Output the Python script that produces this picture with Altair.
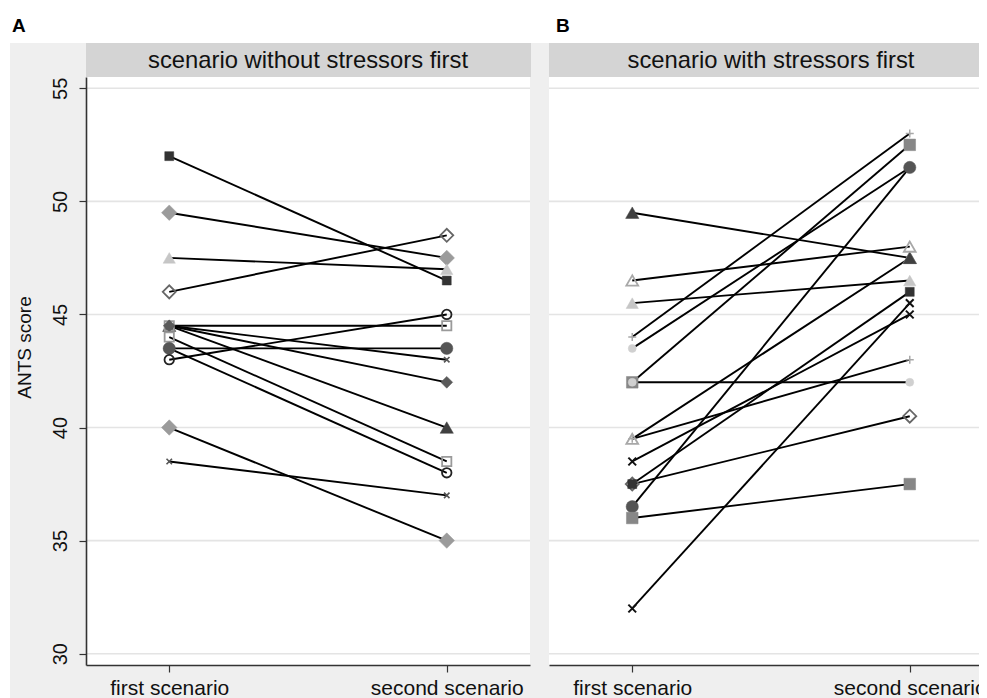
import altair as alt
import pandas as pd

# ---------------- data ----------------
scenarios = ["first scenario", "second scenario"]
panel_titles = ["scenario without stressors first", "scenario with stressors first"]
panel_letters = ["A", "B"]
y_ticks = [30, 35, 40, 45, 50, 55]

# panel A: scenario without stressors first (one entry per subject)
a_first = [52, 49.5, 47.5, 46, 44.5, 44.5, 44.5, 44.5, 44, 43.5, 43.5, 43, 40, 38.5]
a_second = [46.5, 47.5, 47, 48.5, 40, 44.5, 43, 42, 38.5, 38, 43.5, 45, 35, 37]
a_symbol = ["dsq", "gdia", "ltri", "odia", "dtri", "hsq", "xs", "ddia",
            "hsq", "ocir", "dcir", "ocir", "gdia", "xs"]

# panel B: scenario with stressors first
b_first = [39.5, 39.5, 49.5, 46.5, 45.5, 44, 43.5, 42, 42, 38.5, 37.5, 37.5, 36.5, 36, 32]
b_second = [47.5, 43, 47.5, 48, 46.5, 53, 51.5, 52.5, 42, 45, 40.5, 46, 51.5, 37.5, 45.5]
b_symbol = ["otri", "plus", "dtri", "otri", "ltri", "plus", "lcir", "gsq",
            "lcir", "xb", "odia", "dsq", "dcir", "gsq", "xb"]

# ---------------- marker styles (mapped through scales) ----------------
X_PATH = "M-1,-1L1,1M-1,1L1,-1"
PLUS_PATH = "M-1,0L1,0M0,-1L0,1"
kinds = ["dsq", "gdia", "ltri", "odia", "hsq", "xs", "dtri", "ddia",
         "ocir", "dcir", "otri", "plus", "lcir", "gsq", "xb"]
k_shape = ["square", "diamond", "triangle-up", "diamond", "square", X_PATH,
           "triangle-up", "diamond", "circle", "circle", "triangle-up",
           PLUS_PATH, "circle", "square", X_PATH]
k_fill = ["#333333", "#9b9b9b", "#c6c6c6", "transparent", "transparent",
          "transparent", "#404040", "#5a5a5a", "transparent", "#555555",
          "transparent", "transparent", "#d0d0d0", "#878787", "transparent"]
k_stroke = ["#333333", "#9b9b9b", "#c6c6c6", "#666666", "#9a9a9a", "#555555",
            "#404040", "#5a5a5a", "#222222", "#555555", "#a8a8a8", "#a8a8a8",
            "#d0d0d0", "#878787", "#111111"]
k_sw = [0.5, 0.5, 0.5, 1.8, 1.8, 1.6, 0.5, 0.5, 1.8, 0.5, 1.8, 1.5, 0.5, 0.5, 2.0]
k_size = [80, 240, 150, 170, 85, 30, 175, 140, 90, 150, 140, 64, 64, 135, 60]

W, H = 444, 588
FONT = "Liberation Sans"


def make_df(first, second, symbol):
    rows = []
    for i, (f, s, m) in enumerate(zip(first, second, symbol)):
        rows.append({"subj": i, "scenario": scenarios[0], "score": f, "sym": m})
        rows.append({"subj": i, "scenario": scenarios[1], "score": s, "sym": m})
    return pd.DataFrame(rows)


yscale = alt.Scale(domain=[29.5, 55.5], nice=False, zero=False)
xscale = alt.Scale(type="point", padding=0.3, domain=scenarios)

xaxis = alt.Axis(title=None, labelFontSize=21, labelFont=FONT, labelColor="#111111",
                 labelAngle=0, tickSize=7, tickColor="#333333", tickWidth=1.2,
                 domainColor="#333333", domainWidth=1.6, labelPadding=5,
                 grid=False, zindex=1)
yaxis = alt.Axis(title="ANTS score", values=y_ticks, labelAngle=-90,
                 labelAlign="center", labelBaseline="bottom", labelFontSize=20,
                 labelFont=FONT, labelColor="#111111", labelPadding=9,
                 tickSize=7, tickColor="#333333", tickWidth=1.2,
                 domainColor="#333333", domainWidth=1.6, grid=False,
                 titleFontSize=19, titleFont=FONT, titleFontWeight="normal",
                 titleColor="#111111", titleX=-52, titleY=270, zindex=1)

one = alt.Data(values=[{"d": 0}])


def panel(df, title, letter, letter_x, bg_x, bg_x2, show_y):
    y_enc = alt.Y("score:Q", scale=yscale, axis=yaxis if show_y else None)
    x_enc = alt.X("scenario:N", scale=xscale, axis=xaxis, sort=scenarios)

    layers = []
    layers.append(alt.Chart(one).mark_rect(color="#efefef").encode(
        x=alt.value(bg_x), x2=alt.value(bg_x2), y=alt.value(-34), y2=alt.value(H + 40)))
    layers.append(alt.Chart(one).mark_rect(color="#d4d4d4").encode(
        x=alt.value(0), x2=alt.value(W + 1), y=alt.value(-34), y2=alt.value(0)))
    layers.append(alt.Chart(one).mark_text(
        font=FONT, fontSize=23.8, color="#111111", align="center", baseline="middle").encode(
        x=alt.value(W / 2), y=alt.value(-16), text=alt.value(title)))
    layers.append(alt.Chart(one).mark_text(
        font=FONT, fontSize=19, fontWeight="bold", color="#000000",
        align="left", baseline="alphabetic").encode(
        x=alt.value(letter_x), y=alt.value(-45), text=alt.value(letter)))
    layers.append(alt.Chart(one).mark_rect(color="white").encode(
        x=alt.value(0), x2=alt.value(W), y=alt.value(0), y2=alt.value(H)))
    grid_df = pd.DataFrame({"score": y_ticks})
    layers.append(alt.Chart(grid_df).mark_rule(color="#e4e4e4", strokeWidth=1.6).encode(
        x=alt.value(0), x2=alt.value(W), y=y_enc))
    base = alt.Chart(df)
    layers.append(base.mark_line(color="#000000", strokeWidth=1.9).encode(
        x=x_enc, y=y_enc, detail="subj:N"))
    layers.append(base.mark_point(opacity=1, filled=True).encode(
        x=x_enc, y=y_enc,
        shape=alt.Shape("sym:N", scale=alt.Scale(domain=kinds, range=k_shape), legend=None),
        fill=alt.Fill("sym:N", scale=alt.Scale(domain=kinds, range=k_fill), legend=None),
        stroke=alt.Stroke("sym:N", scale=alt.Scale(domain=kinds, range=k_stroke), legend=None),
        strokeWidth=alt.StrokeWidth("sym:N", scale=alt.Scale(type="ordinal", domain=kinds, range=k_sw), legend=None),
        size=alt.Size("sym:N", scale=alt.Scale(type="ordinal", domain=kinds, range=k_size), legend=None),
    ))
    return alt.layer(*layers).properties(width=W, height=H)


left = panel(make_df(a_first, a_second, a_symbol), panel_titles[0], panel_letters[0],
             -74, -76, W + 10, True)
right = panel(make_df(b_first, b_second, b_symbol), panel_titles[1], panel_letters[1],
              7, -9, 460, False)

chart = alt.hconcat(
    left, right, spacing=19, bounds="flush",
    autosize=alt.AutoSizeParams(type="none"),
    padding={"left": 78, "top": 69, "right": 893, "bottom": 613},
).configure(background="white", font=FONT).configure_view(stroke=None)

chart.save("out.html", embed_options={"renderer": "svg", "actions": False})
